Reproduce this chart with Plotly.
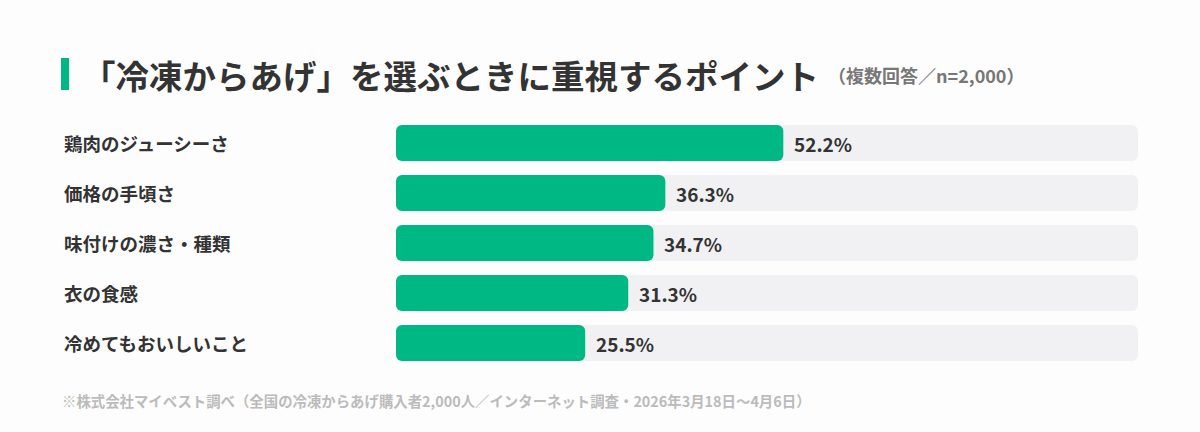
import plotly.graph_objects as go

categories = ["鶏肉のジューシーさ", "価格の手頃さ", "味付けの濃さ・種類", "衣の食感", "冷めてもおいしいこと"]
values = [52.2, 36.3, 34.7, 31.3, 25.5]
full = [100] * len(categories)
title_text = "「冷凍からあげ」を選ぶときに重視するポイント"
subtitle_text = "（複数回答／n=2,000）"
note_text = "※株式会社マイベスト調べ（全国の冷凍からあげ購入者2,000人／インターネット調査・2026年3月18日〜4月6日）"

W, H = 1200, 432
L, R, T, B = 396, 62, 118, 64
PW, PH = W - L - R, H - T - B

def px(x):
    return (x - L) / PW

def py(y):
    return (H - B - y) / PH

FONT = "Noto Sans CJK JP"
GREEN = "#00b884"
BG = "#f1f1f4"
BW = 0.72
CR = 6

fig = go.Figure()
# background track: right half rounded at right end, left half rounded at left end
fig.add_trace(go.Bar(y=categories, x=[f * 0.6 for f in full], base=[0] * len(full),
                     orientation="h", marker=dict(color=BG, cornerradius=CR, line_width=0),
                     width=BW, hoverinfo="skip", showlegend=False))
fig.add_trace(go.Bar(y=categories, x=[-f * 0.6 for f in full], base=full,
                     orientation="h", marker=dict(color=BG, cornerradius=CR, line_width=0),
                     width=BW, hoverinfo="skip", showlegend=False))
# green value bar, rounded at both ends
fig.add_trace(go.Bar(y=categories, x=[v * 0.6 for v in values], base=[0] * len(values),
                     orientation="h", marker=dict(color=GREEN, cornerradius=CR, line_width=0),
                     width=BW, hoverinfo="skip", showlegend=False))
fig.add_trace(go.Bar(y=categories, x=[-v * 0.6 for v in values], base=values,
                     orientation="h", marker=dict(color=GREEN, cornerradius=CR, line_width=0),
                     width=BW, hoverinfo="skip", showlegend=False))

ann = []
for c, v in zip(categories, values):
    ann.append(dict(x=v, y=c, xref="x", yref="y", text=f"<b>{v:.1f}%</b>",
                    showarrow=False, xanchor="left", yanchor="middle", xshift=9,
                    font=dict(family=FONT, size=19, color="#333333")))
    ann.append(dict(x=px(62), y=c, xref="paper", yref="y", text=f"<b>{c}</b>",
                    showarrow=False, xanchor="left", yanchor="middle",
                    font=dict(family=FONT, size=18.5, color="#333333")))

ann.append(dict(x=px(80), y=py(74), xref="paper", yref="paper", text=f"<b>{title_text}</b>",
                showarrow=False, xanchor="left", yanchor="middle",
                font=dict(family=FONT, size=33.5, color="#333333", weight=900)))
ann.append(dict(x=px(826), y=py(75), xref="paper", yref="paper", text=f"<b>{subtitle_text}</b>",
                showarrow=False, xanchor="left", yanchor="middle",
                font=dict(family=FONT, size=18, color="#777777")))
ann.append(dict(x=px(60), y=py(400), xref="paper", yref="paper", text=f"<b>{note_text}</b>",
                showarrow=False, xanchor="left", yanchor="middle",
                font=dict(family=FONT, size=14.4, color="#bbbbbb")))

fig.update_layout(
    width=W, height=H,
    margin=dict(l=L, r=R, t=T, b=B),
    paper_bgcolor="#fdfdfd", plot_bgcolor="rgba(0,0,0,0)",
    barmode="overlay",
    xaxis=dict(range=[0, 100], visible=False, fixedrange=True),
    yaxis=dict(autorange="reversed", visible=False, fixedrange=True),
    annotations=ann,
    shapes=[dict(type="rect", xref="paper", yref="paper",
                 x0=px(61), x1=px(69), y0=py(58), y1=py(90),
                 fillcolor=GREEN, line_width=0, layer="above")],
    font=dict(family=FONT),
)

fig.write_html("out.html")
